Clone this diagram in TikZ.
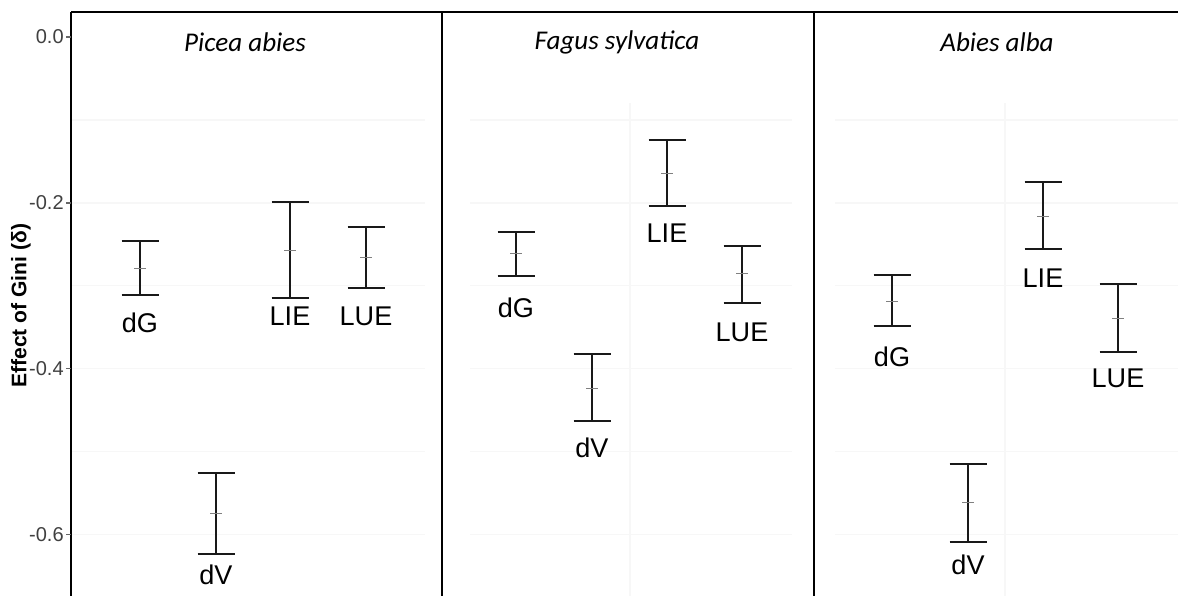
\documentclass[tikz,border=0pt]{standalone}
\usepackage{fontspec}
\setmainfont{Liberation Sans}
\newfontfamily\titlefont{Carlito}
\usepackage{tikz}
\tikzset{
    frame/.style={line width=1.4pt, draw=black},
    errbar/.style={line width=1.25pt, draw=black!90},
    midtick/.style={line width=0.5pt, draw=gray},
    gridline/.style={line width=0.6pt, draw=black!3},
    axistick/.style={line width=0.6pt, draw=black!60},
    barlabel/.style={font=\fontsize{15.4}{16}\selectfont, inner sep=0pt},
    ticklabel/.style={font=\fontsize{11.4}{12}\selectfont, text=black!75, anchor=east, inner sep=0pt},
    axistitle/.style={font=\bfseries\fontsize{12}{13}\selectfont, rotate=90, inner sep=0pt},
    paneltitle/.style={font=\titlefont\itshape\fontsize{15.4}{16}\selectfont, inner sep=0pt},
}

\begin{document}
\begin{tikzpicture}[x=0.02cm, y=16.6cm]
\useasboundingbox (0,0.0446) rectangle (1178,-0.6735);
 % grid
 \foreach \v in {-0.1,-0.2,-0.3,-0.4,-0.5,-0.6} {
	\draw[gridline] (72,\v) -- (425,\v);
	\draw[gridline] (470,\v) -- (792,\v);
	\draw[gridline] (835,\v) -- (1178,\v);
 }
 \draw[gridline] (630,-0.0795) -- (630,-0.6735);
 \draw[gridline] (1005,-0.0795) -- (1005,-0.6735);
 % frame
 \draw[frame] (71,0.0301) -- (1178,0.0301);
 \draw[frame] (71,0.0301) -- (71,-0.6735);
 \draw[frame] (442,0.0301) -- (442,-0.6735);
 \draw[frame] (814,0.0301) -- (814,-0.6735);
 % y axis
 \foreach \v/\t/\n in {0/0.0/a, -0.2/-0.2/b, -0.4/-0.4/c, -0.6/-0.6/d} {
	\draw[axistick] (66,\v) -- (71,\v);
	\node[ticklabel] (tick\n) at (64,\v) {\t};
 }
 \node[axistitle] (ytitle) at (21,-0.324) {Effect of Gini (δ)};
 % Picea abies
 \begin{scope}[shift={(71,0)}]
	\node[paneltitle] (titlea) at (174,-0.006) {Picea abies};
	\draw[errbar] (50.5,-0.2458) -- (87.5,-0.2458) (69,-0.2458) -- (69,-0.3108) (50.5,-0.3108) -- (87.5,-0.3108);
	\draw[midtick] (63,-0.2783) -- (75,-0.2783);
	\node[barlabel] (dGa) at (69,-0.3446) {dG};
	\draw[errbar] (126.5,-0.5253) -- (163.5,-0.5253) (145,-0.5253) -- (145,-0.6229) (126.5,-0.6229) -- (163.5,-0.6229);
	\draw[midtick] (139,-0.5747) -- (151,-0.5747);
	\node[barlabel] (dVa) at (145,-0.6482) {dV};
	\draw[errbar] (200.5,-0.1988) -- (237.5,-0.1988) (219,-0.1988) -- (219,-0.3145) (200.5,-0.3145) -- (237.5,-0.3145);
	\draw[midtick] (213,-0.2566) -- (225,-0.2566);
	\node[barlabel] (LIEa) at (219,-0.3361) {LIE};
	\draw[errbar] (276.5,-0.2289) -- (313.5,-0.2289) (295,-0.2289) -- (295,-0.3024) (276.5,-0.3024) -- (313.5,-0.3024);
	\draw[midtick] (289,-0.2651) -- (301,-0.2651);
	\node[barlabel] (LUEa) at (295,-0.3361) {LUE};
 \end{scope}
 % Fagus sylvatica
 \begin{scope}[shift={(442,0)}]
	\node[paneltitle] (titleb) at (175,-0.006) {Fagus sylvatica};
	\draw[errbar] (55.5,-0.2349) -- (92.5,-0.2349) (74,-0.2349) -- (74,-0.2880) (55.5,-0.2880) -- (92.5,-0.2880);
	\draw[midtick] (68,-0.2614) -- (80,-0.2614);
	\node[barlabel] (dGb) at (74,-0.3265) {dG};
	\draw[errbar] (131.5,-0.3819) -- (168.5,-0.3819) (150,-0.3819) -- (150,-0.4627) (131.5,-0.4627) -- (168.5,-0.4627);
	\draw[midtick] (144,-0.4229) -- (156,-0.4229);
	\node[barlabel] (dVb) at (150,-0.4952) {dV};
	\draw[errbar] (206.5,-0.1241) -- (243.5,-0.1241) (225,-0.1241) -- (225,-0.2036) (206.5,-0.2036) -- (243.5,-0.2036);
	\draw[midtick] (219,-0.1639) -- (231,-0.1639);
	\node[barlabel] (LIEb) at (225,-0.2361) {LIE};
	\draw[errbar] (281.5,-0.2518) -- (318.5,-0.2518) (300,-0.2518) -- (300,-0.3205) (281.5,-0.3205) -- (318.5,-0.3205);
	\draw[midtick] (294,-0.2855) -- (306,-0.2855);
	\node[barlabel] (LUEb) at (300,-0.3554) {LUE};
 \end{scope}
 % Abies alba
 \begin{scope}[shift={(814,0)}]
	\node[paneltitle] (titlec) at (183,-0.006) {Abies alba};
	\draw[errbar] (59.5,-0.2867) -- (96.5,-0.2867) (78,-0.2867) -- (78,-0.3482) (59.5,-0.3482) -- (96.5,-0.3482);
	\draw[midtick] (72,-0.3181) -- (84,-0.3181);
	\node[barlabel] (dGc) at (78,-0.3855) {dG};
	\draw[errbar] (135.5,-0.5145) -- (172.5,-0.5145) (154,-0.5145) -- (154,-0.6084) (135.5,-0.6084) -- (172.5,-0.6084);
	\draw[midtick] (148,-0.5614) -- (160,-0.5614);
	\node[barlabel] (dVc) at (154,-0.6361) {dV};
	\draw[errbar] (210.5,-0.1747) -- (247.5,-0.1747) (229,-0.1747) -- (229,-0.2554) (210.5,-0.2554) -- (247.5,-0.2554);
	\draw[midtick] (223,-0.2157) -- (235,-0.2157);
	\node[barlabel] (LIEc) at (229,-0.2904) {LIE};
	\draw[errbar] (285.5,-0.2976) -- (322.5,-0.2976) (304,-0.2976) -- (304,-0.3795) (285.5,-0.3795) -- (322.5,-0.3795);
	\draw[midtick] (298,-0.3386) -- (310,-0.3386);
	\node[barlabel] (LUEc) at (304,-0.4108) {LUE};
 \end{scope}
\end{tikzpicture}
\end{document}
